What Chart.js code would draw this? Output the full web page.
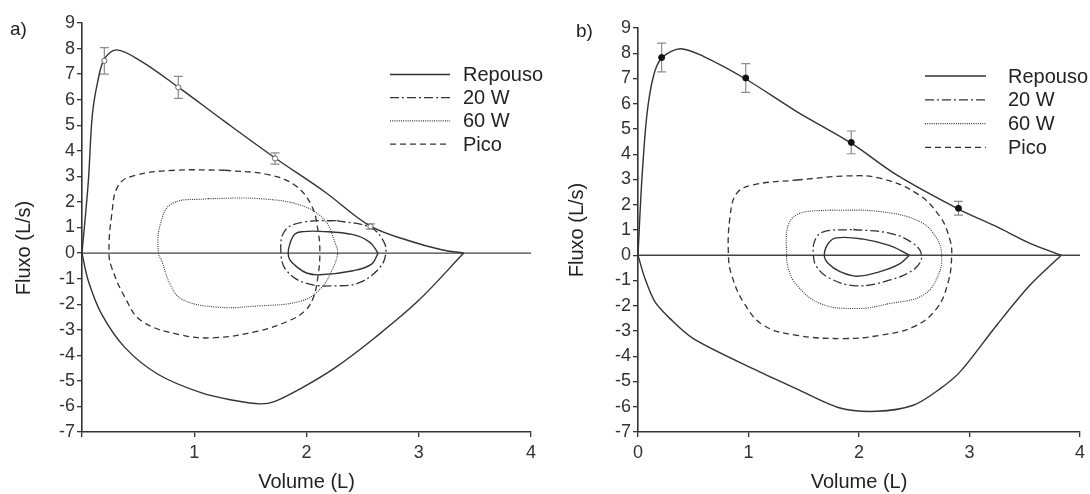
<!DOCTYPE html>
<html>
<head>
<meta charset="utf-8">
<title>Curvas fluxo-volume</title>
<script src="https://cdn.jsdelivr.net/npm/chart.js@4.4.1/dist/chart.umd.min.js"></script>
<style>
  html, body { margin: 0; padding: 0; background: #fff; }
  #wrap { position: relative; width: 1090px; height: 494px; }
  .panel { position: absolute; top: 0; width: 545px; height: 494px; }
</style>
</head>
<body>
<div id="wrap">
  <div class="panel" style="left:0"><canvas id="chartA"></canvas></div>
  <div class="panel" style="left:545px"><canvas id="chartB"></canvas></div>
</div>
<script>
// series labels (legend order)
const seriesLabels = ['Repouso', '20 W', '60 W', 'Pico'];
const xTickLabelsA = ['', '1', '2', '3', '4'];
const xTickLabelsB = ['0', '1', '2', '3', '4'];

// ---- panel a) : [volume L, flow L/s] ----
const restExpA = [[0,0],[0.056,2.78],[0.092,5.40],[0.14,6.71],[0.199,7.59],[0.309,7.95],[0.532,7.49],
  [0.858,6.49],[1.273,5.14],[1.72,3.72],[2.164,2.39],[2.57,1.05],[2.906,0.49],[3.203,0.13],[3.40,0]];
const restInspA = [[3.40,0],[2.995,-1.87],[2.609,-3.31],[2.253,-4.49],[1.956,-5.28],[1.719,-5.80],[1.585,-5.90],
  [1.362,-5.77],[1.066,-5.47],[0.68,-4.75],[0.383,-3.70],[0.175,-2.39],[0.056,-1.08],[0,0]];
const restTidalA = [[2.638,0],[2.565,0.42],[2.416,0.72],[2.119,0.85],[1.971,0.84],[1.897,0.75],[1.852,0.36],
  [1.837,0],[1.852,-0.27],[1.912,-0.53],[2.0,-0.78],[2.119,-0.85],[2.416,-0.69],[2.58,-0.43],[2.638,0]];
const w20A = [[2.268,1.27],[2.565,1.01],[2.683,0.49],[2.707,0],[2.654,-0.56],[2.475,-1.15],[2.268,-1.28],
  [2.001,-1.19],[1.823,-0.69],[1.772,0],[1.808,0.88],[1.97,1.21],[2.268,1.27]];
const w60A = [[1.125,2.13],[1.57,2.13],[1.956,1.86],[2.164,1.27],[2.253,0.42],[2.277,0],[2.238,-0.56],
  [2.134,-1.35],[1.956,-1.87],[1.57,-2.07],[1.184,-2.11],[0.888,-1.80],[0.784,-1.21],[0.71,-0.30],[0.68,0],
  [0.695,1.08],[0.80,1.93],[1.125,2.13]];
const peakA = [[1.273,3.24],[1.66,3.07],[1.897,2.65],[2.045,1.86],[2.105,0.81],[2.119,0],[2.105,-0.82],
  [2.061,-1.74],[1.986,-2.26],[1.837,-2.66],[1.57,-3.05],[1.184,-3.31],[0.888,-3.21],[0.532,-2.66],
  [0.383,-1.74],[0.264,-0.56],[0.24,0],[0.264,1.47],[0.324,2.65],[0.472,3.04],[0.828,3.24],[1.273,3.24]];
// mean flow with error: [volume, flow, sd]
const errA = [[0.199,7.52,0.52],[0.858,6.48,0.43],[1.72,3.70,0.22],[2.57,1.04,0.10]];

// ---- panel b) ----
const restExpB = [[0,0],[0.033,2.85],[0.079,5.50],[0.139,7.08],[0.214,7.81],[0.38,8.18],[0.591,7.88],
  [0.975,6.98],[1.436,5.69],[1.93,4.44],[2.341,3.18],[2.90,1.83],[3.246,1.13],[3.548,0.47],[3.83,0]];
const restInspB = [[3.83,0],[3.548,-1.18],[3.246,-2.77],[2.914,-4.62],[2.733,-5.29],[2.491,-5.94],[2.16,-6.18],
  [1.828,-6.05],[1.436,-5.29],[1.074,-4.56],[0.50,-3.30],[0.29,-2.51],[0.154,-1.85],[0.063,-0.92],[0,0]];
const restTidalB = [[2.455,0],[2.281,0.38],[2.039,0.64],[1.798,0.69],[1.722,0.47],[1.686,0],[1.722,-0.33],
  [1.828,-0.65],[1.979,-0.83],[2.19,-0.65],[2.371,-0.33],[2.455,0]];
const w20B = [[1.948,1.02],[2.281,0.87],[2.491,0.47],[2.567,0],[2.507,-0.52],[2.281,-0.98],[1.979,-1.21],
  [1.738,-0.92],[1.617,-0.46],[1.587,0],[1.602,0.60],[1.677,0.93],[1.948,1.02]];
const w60B = [[1.738,1.79],[2.19,1.73],[2.552,1.33],[2.703,0.67],[2.748,0],[2.718,-0.79],[2.582,-1.58],
  [2.281,-1.91],[1.979,-2.11],[1.647,-1.91],[1.436,-1.18],[1.36,-0.52],[1.345,0],[1.36,1.20],[1.466,1.66],
  [1.738,1.79]];
const peakB = [[1.436,2.98],[1.889,3.14],[2.19,3.05],[2.522,2.45],[2.733,1.53],[2.824,0.60],[2.839,0],
  [2.808,-1.05],[2.703,-2.11],[2.491,-2.84],[2.19,-3.17],[1.858,-3.30],[1.436,-3.17],[1.134,-2.77],
  [0.953,-1.85],[0.848,-0.79],[0.818,0],[0.833,1.53],[0.893,2.45],[1.044,2.79],[1.436,2.98]];
const errB = [[0.214,7.83,0.57],[0.975,7.02,0.57],[1.93,4.47,0.45],[2.90,1.86,0.27]];

const zeroLine = [[0,0],[4,0]];

const FONT = "'Liberation Sans', Arial, Helvetica, sans-serif";
Chart.defaults.font.family = FONT;
Chart.defaults.color = '#333';

const INK = '#333';
const styles = {
  'Repouso': { dash: [], width: 1.4 },
  '20 W': { dash: [9, 3, 2, 3], width: 1.3 },
  '60 W': { dash: [1, 1.2], width: 1.1 },
  'Pico': { dash: [6, 4], width: 1.3 }
};

const toXY = pts => pts.map(p => ({ x: p[0], y: p[1] }));

function curve(label, pts, inLegend, tension) {
  const s = styles[label];
  return {
    label, data: toXY(pts), showLine: true, pointRadius: 0,
    borderColor: INK, borderWidth: s.width, borderDash: s.dash,
    tension: tension, inLegend
  };
}

// whiskers under the curves
function errorBars(rows, cap) {
  return {
    id: 'errorBars',
    beforeDatasetsDraw(chart) {
      const { ctx, scales: { x, y } } = chart;
      ctx.save();
      ctx.strokeStyle = '#8c8c8c';
      ctx.lineWidth = 1.2;
      rows.forEach(([vx, vy, sd]) => {
        const px = x.getPixelForValue(vx);
        const top = y.getPixelForValue(vy + sd);
        const bot = y.getPixelForValue(vy - sd);
        ctx.beginPath();
        ctx.moveTo(px, top); ctx.lineTo(px, bot);
        ctx.moveTo(px - cap, top); ctx.lineTo(px + cap, top);
        ctx.moveTo(px - cap, bot); ctx.lineTo(px + cap, bot);
        ctx.stroke();
      });
      ctx.restore();
    }
  };
}

// line-sample legend inside the plot
function lineLegend(pos) {
  return {
    id: 'lineLegend',
    afterDraw(chart) {
      const ctx = chart.ctx;
      const items = chart.data.datasets.filter(d => d.inLegend);
      ctx.save();
      items.forEach((d, i) => {
        const yy = pos.top + i * pos.row;
        ctx.beginPath();
        ctx.setLineDash(d.borderDash);
        ctx.lineWidth = d.borderWidth;
        ctx.strokeStyle = d.borderColor;
        ctx.moveTo(pos.x1, yy);
        ctx.lineTo(pos.x2, yy);
        ctx.stroke();
        ctx.setLineDash([]);
        ctx.fillStyle = '#222';
        ctx.font = '20px ' + FONT;
        ctx.textAlign = 'left';
        ctx.textBaseline = 'middle';
        ctx.fillText(d.label, pos.textX, yy + 1);
      });
      ctx.restore();
    }
  };
}

// panel letter and y title
function panelText(t) {
  return {
    id: 'panelText',
    afterDraw(chart) {
      const ctx = chart.ctx;
      ctx.save();
      ctx.fillStyle = '#222';
      ctx.font = '19px ' + FONT;
      ctx.textAlign = 'left';
      ctx.textBaseline = 'middle';
      ctx.fillText(t.letter, t.letterX, t.letterY);
      ctx.translate(t.titleX, t.titleY);
      ctx.rotate(-Math.PI / 2);
      ctx.font = '20px ' + FONT;
      ctx.textAlign = 'center';
      ctx.fillText('Fluxo (L/s)', 0, 0);
      ctx.restore();
    }
  };
}

function axisOpts(extra) {
  return Object.assign({
    type: 'linear',
    grid: { display: true, drawOnChartArea: false, drawTicks: true, tickLength: 5, color: '#333', lineWidth: 1.3 },
    border: { display: true, color: '#333', width: 1.6 }
  }, extra);
}

function makePanel(id, p) {
  const datasets = [
    { label: 'média', data: toXY(p.err), showLine: false, pointRadius: p.markR,
      pointBackgroundColor: p.markFill, pointBorderColor: p.markLine, pointBorderWidth: 1 },
    curve('Repouso', p.restExp, true, p.tension),
    curve('Repouso', p.restInsp, false, p.tension),
    curve('Repouso', p.restTidal, false, 0.4),
    curve('20 W', p.w20, true, 0.4),
    curve('60 W', p.w60, true, 0.4),
    curve('Pico', p.peak, true, 0.4),
    { label: 'zero', data: toXY(zeroLine), showLine: true, pointRadius: 0, borderColor: '#444', borderWidth: 1.3 }
  ];
  return new Chart(document.getElementById(id), {
    type: 'scatter',
    data: { datasets },
    options: {
      responsive: true,
      maintainAspectRatio: false,
      animation: false,
      layout: { padding: p.padding },
      plugins: { legend: { display: false }, tooltip: { enabled: false } },
      scales: {
        x: axisOpts({
          min: 0, max: 4,
          ticks: { stepSize: 1, autoSkip: false, maxRotation: 0, padding: 5, color: '#333',
            font: { size: 18 }, callback: (v) => p.xLabels[v] },
          title: { display: true, text: 'Volume (L)', color: '#222', font: { size: 20 }, padding: 0 },
          afterFit: s => { s.height = 62; }
        }),
        y: axisOpts({
          min: -7, max: 9,
          ticks: { stepSize: 1, autoSkip: false, padding: 2, color: '#333', font: { size: 18 } },
          afterFit: s => { s.width = 60; }
        })
      }
    },
    plugins: [errorBars(p.err, 4.5), lineLegend(p.legend), panelText(p.text)]
  });
}

makePanel('chartA', {
  restExp: restExpA, restInsp: restInspA, restTidal: restTidalA, w20: w20A, w60: w60A, peak: peakA,
  err: errA, markR: 2.6, markFill: '#fff', markLine: '#666', tension: 0.35,
  xLabels: xTickLabelsA,
  padding: { left: 22, right: 14, top: 23, bottom: 0 },
  legend: { x1: 390, x2: 450, textX: 463, top: 74.5, row: 23.2 },
  text: { letter: 'a)', letterX: 10, letterY: 30, titleX: 24, titleY: 248 }
});

makePanel('chartB', {
  restExp: restExpB, restInsp: restInspB, restTidal: restTidalB, w20: w20B, w60: w60B, peak: peakB,
  err: errB, markR: 3, markFill: '#111', markLine: '#111', tension: 0.3,
  xLabels: xTickLabelsB,
  padding: { left: 33, right: 10, top: 28, bottom: 0 },
  legend: { x1: 380, x2: 441, textX: 463, top: 76, row: 23.8 },
  text: { letter: 'b)', letterX: 31, letterY: 32, titleX: 32, titleY: 230 }
});
</script>
</body>
</html>
